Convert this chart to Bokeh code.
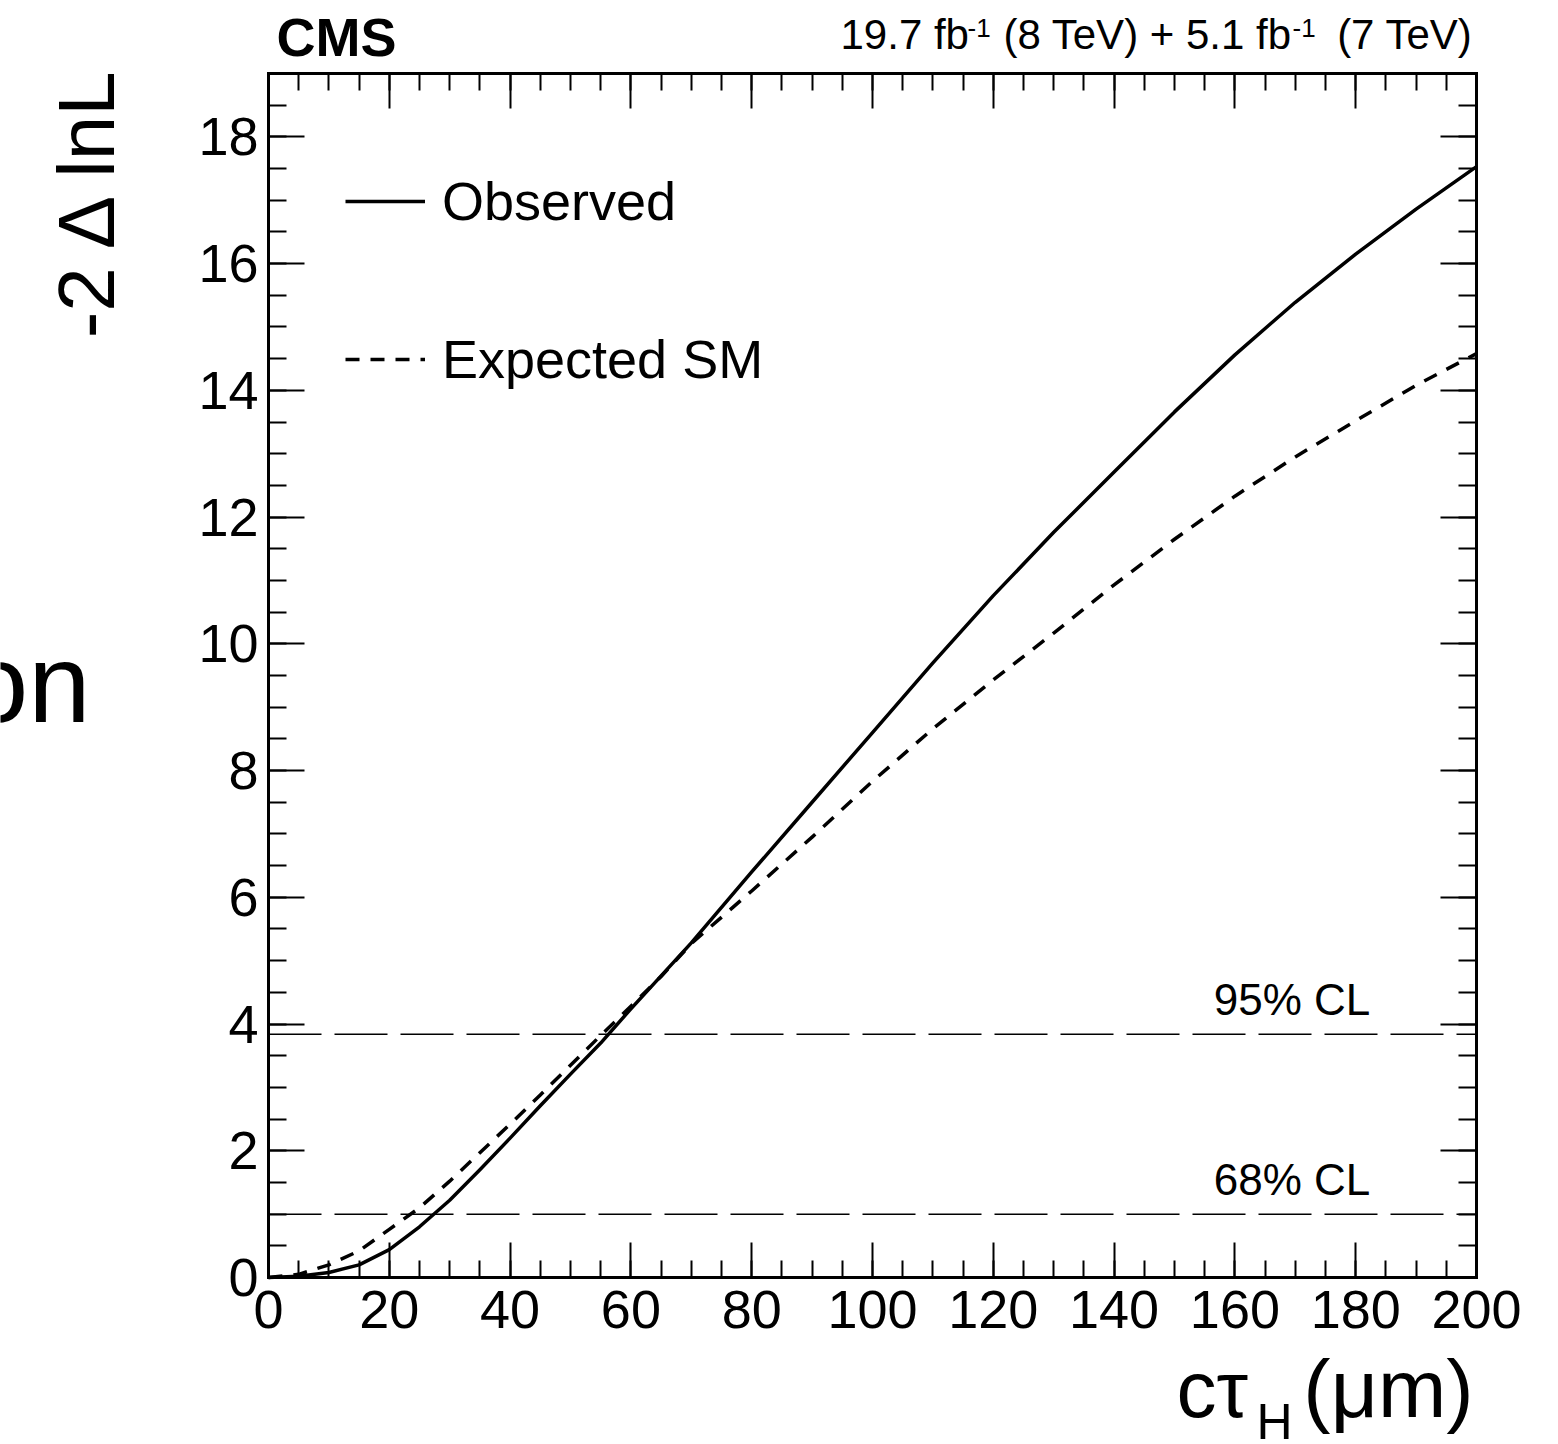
from bokeh.plotting import figure
from bokeh.models import (Range1d, LinearAxis, SingleIntervalTicker, Label,
                          Legend, LegendItem)
from bokeh.embed import file_html
from bokeh.resources import INLINE

# ---------------- data ----------------
ctau = [0, 5, 10, 15, 20, 25, 30, 35, 40, 45, 50, 55, 60, 65, 70,
        80, 90, 100, 110, 120, 130, 140, 150, 160, 170, 180, 190, 200]
observed = [0.0, 0.02, 0.08, 0.20, 0.44, 0.80, 1.22, 1.70, 2.20, 2.71, 3.21, 3.70, 4.24, 4.76, 5.28,
            6.40, 7.50, 8.60, 9.70, 10.76, 11.76, 12.71, 13.66, 14.56, 15.39, 16.15, 16.86, 17.53]
expected = [0.0, 0.05, 0.20, 0.42, 0.76, 1.10, 1.52, 1.97, 2.42, 2.88, 3.35, 3.82, 4.28, 4.75, 5.27,
            6.10, 6.95, 7.83, 8.66, 9.43, 10.17, 10.93, 11.65, 12.33, 12.95, 13.52, 14.08, 14.58]
cl_levels = [1.0, 3.84]
cl_labels = ["68% CL", "95% CL"]
series_names = ["Observed", "Expected SM"]
x_limits = (0, 200)
y_limits = (0, 19)

FONT = "Liberation Sans"
BASE = 0.39   # correction: rendered baseline sits ~0.39 em below the anchor

# ---------------- layout (pixels on the page) ----------------
W, H = 1558, 1444
FL, FR, FT, FB = 268, 1476, 73, 1277        # plot box
XMIN, XMAX = x_limits
YMIN, YMAX = y_limits
kx = (FR - FL) / (XMAX - XMIN)
ky = (FB - FT) / (YMAX - YMIN)

p = figure(width=W, height=H,
           x_range=Range1d(XMIN - FL / kx, XMAX + (W - FR) / kx),
           y_range=Range1d(YMIN - (H - FB) / ky, YMAX + FT / ky),
           output_backend="svg", toolbar_location=None,
           min_border_left=0, min_border_right=0, min_border_top=0, min_border_bottom=0)
p.grid.visible = False
p.outline_line_color = None
p.background_fill_color = "white"
p.border_fill_color = "white"


def style_axis(ax, major_len, minor_len, labels=True):
    ax.axis_line_width = 3
    ax.axis_line_color = "black"
    ax.axis_line_cap = "square"
    ax.major_tick_in = major_len
    ax.major_tick_out = 0
    ax.minor_tick_in = minor_len
    ax.minor_tick_out = 0
    ax.major_tick_line_width = 2
    ax.minor_tick_line_width = 2
    ax.major_tick_line_color = "black"
    ax.minor_tick_line_color = "black"
    if labels:
        ax.major_label_text_font = FONT
        ax.major_label_text_font_size = "54px"
        ax.major_label_text_color = "black"
    else:
        ax.major_label_text_color = None


xaxis = p.xaxis[0]
xaxis.ticker = SingleIntervalTicker(interval=20, num_minor_ticks=4)
xaxis.fixed_location = YMIN
xaxis.bounds = (XMIN, XMAX)
style_axis(xaxis, 35, 17)
xaxis.major_label_standoff = 13

yaxis = p.yaxis[0]
yaxis.ticker = SingleIntervalTicker(interval=2, num_minor_ticks=4)
yaxis.fixed_location = XMIN
yaxis.bounds = (YMIN, YMAX)
style_axis(yaxis, 36, 18)
yaxis.major_label_standoff = 10

top = LinearAxis(ticker=SingleIntervalTicker(interval=20, num_minor_ticks=4),
                 fixed_location=YMAX, bounds=(XMIN, XMAX))
style_axis(top, 35, 17, labels=False)
p.add_layout(top, "above")
right = LinearAxis(ticker=SingleIntervalTicker(interval=2, num_minor_ticks=4),
                   fixed_location=XMAX, bounds=(YMIN, YMAX))
style_axis(right, 36, 18, labels=False)
p.add_layout(right, "right")

# CL reference lines
p.segment(x0=[XMIN] * len(cl_levels), x1=[XMAX] * len(cl_levels), y0=cl_levels, y1=cl_levels,
          line_color="black", line_width=1.5, line_dash="53 13")
for lvl, lab_text in zip(cl_levels, cl_labels):
    p.add_layout(Label(x=156.5, y=lvl + (17.5 + BASE * 44) / ky, text=lab_text, text_font=FONT,
                       text_font_size="44px", text_color="black",
                       text_baseline="alphabetic", text_align="left"))

r_obs = p.line(ctau, observed, line_color="black", line_width=3.5, line_join="round")
r_exp = p.line(ctau, expected, line_color="black", line_width=3.5, line_dash="14 11",
               line_join="round")

legend = Legend(items=[LegendItem(label=series_names[0], renderers=[r_obs]),
                       LegendItem(label=series_names[1], renderers=[r_exp])],
                location=(345, H - 394), orientation="vertical",
                glyph_width=80, glyph_height=70, label_height=70, spacing=88,
                label_standoff=17, padding=0, margin=0,
                border_line_color=None, background_fill_alpha=0,
                label_text_font=FONT, label_text_font_size="54px",
                label_text_color="black")
p.add_layout(legend)


def lab(text, px, py, size, align="left", angle=0, style="normal"):
    """Text whose baseline starts at page pixel (px, py); frame == whole canvas."""
    x, y = px, H - py
    if angle:
        x -= BASE * size
    else:
        y += BASE * size
    p.add_layout(Label(x=x, y=y, x_units="screen", y_units="screen", text=text,
                       text_font=FONT, text_font_size=f"{size}px", text_color="black",
                       text_align=align, text_baseline="alphabetic", angle=angle,
                       text_font_style=style))


lab("CMS", 276, 58, 54, style="bold")
lab("19.7 fb", 840, 50, 42)
lab("-1", 967, 38, 26)
lab("(8 TeV) + 5.1 fb", 1003, 50, 42)
lab("-1", 1292, 38, 26)
lab("(7 TeV)", 1472, 50, 42, align="right")

# y axis title (rotated, top aligned)
lab("-2 \u0394 lnL", 117, 62, 80, align="right", angle=1.5707963)

# x axis title
lab("c\u03c4", 1176, 1420, 80)
lab("H", 1256, 1441, 50)
lab("(\u03bcm)", 1473, 1420, 82, align="right")

# partially visible text at the left edge
lab("on", 90, 727, 112, align="right")

open("out.html", "w").write(file_html(p, INLINE))
